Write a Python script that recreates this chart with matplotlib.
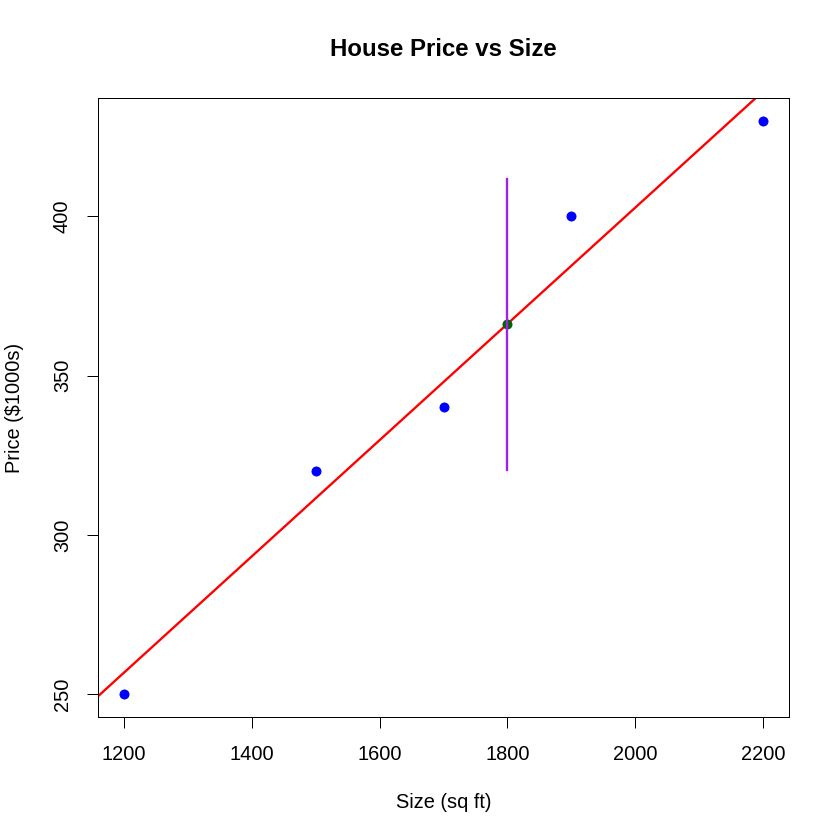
import numpy as np
import matplotlib
matplotlib.use("Agg")
import matplotlib.pyplot as plt

plt.rcParams['font.family'] = ['Liberation Sans', 'DejaVu Sans']

size_sqft = [1200, 1500, 1700, 1900, 2200]
price_k = [250, 320, 340, 400, 430]
new_size = 1800
interval_low, interval_high = 320.3, 411.9
x_ticks = [1200, 1400, 1600, 1800, 2000, 2200]
y_ticks = [250, 300, 350, 400]

slope, intercept = np.polyfit(size_sqft, price_k, 1)
pred = intercept + slope * new_size

fig = plt.figure(figsize=(7, 7), dpi=120)
ax = fig.add_axes([98/840, 1-717/840, (789-98)/840, (717-98)/840])

xr = max(size_sqft) - min(size_sqft)
yr = max(price_k) - min(price_k)
ax.set_xlim(min(size_sqft) - 0.04*xr, max(size_sqft) + 0.04*xr)
ax.set_ylim(min(price_k) - 0.04*yr, max(price_k) + 0.04*yr)

ax.plot(size_sqft, price_k, 'o', color='blue', markersize=6, markeredgewidth=0, zorder=3)
ax.axline((0, intercept), slope=slope, color='red', linewidth=1.4, zorder=2)
ax.plot([new_size], [pred], 'o', color='darkgreen', markersize=6, markeredgewidth=0, zorder=3)
ax.plot([new_size, new_size], [interval_low, interval_high], color='#A020F0', linewidth=1.4, zorder=4)

ax.set_xticks(x_ticks)
ax.set_yticks(y_ticks)
ax.set_xticklabels([str(v) for v in x_ticks])
ax.set_yticklabels([str(v) for v in y_ticks], rotation=90, va='center')
ax.tick_params(axis='both', length=6.6, width=0.6, labelsize=12, color='black')
ax.tick_params(axis='x', pad=10.5)
ax.tick_params(axis='y', pad=9)
for s in ax.spines.values():
    s.set_linewidth(0.6)

fig.text((98+789)/2/840, 1-802/840, 'Size (sq ft)', ha='center', va='center', fontsize=12)
fig.text(15/840, 1-(98+717)/2/840, 'Price ($1000s)', ha='center', va='center', fontsize=12, rotation=90)
fig.text((98+789)/2/840, 1-50/840, 'House Price vs Size', ha='center', va='center', fontsize=14.4, fontweight='bold')

fig.savefig('out.png', dpi=120)
